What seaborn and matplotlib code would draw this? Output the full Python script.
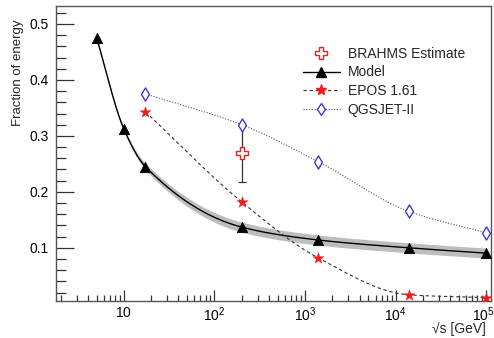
import numpy as np
import matplotlib
matplotlib.use("Agg")
import matplotlib.pyplot as plt
from matplotlib.lines import Line2D
from matplotlib.ticker import FixedLocator, FuncFormatter
import matplotlib.transforms as mtransforms
import seaborn as sns

# Centre-of-mass energies (GeV) and fractions of energy
model_x = [5, 10, 17.3, 200, 1400, 14000, 100000]
model_y = [0.475, 0.312, 0.245, 0.137, 0.114, 0.100, 0.0905]
model_err = [0.002, 0.003, 0.006, 0.009, 0.009, 0.009, 0.009]

epos_x = [17.3, 200, 1400, 14000, 100000]
epos_y = [0.343, 0.182, 0.082, 0.016, 0.011]

qgs_x = [17.3, 200, 1400, 14000, 100000]
qgs_y = [0.375, 0.320, 0.254, 0.165, 0.127]

brahms_x = [200]
brahms_y = [0.270]
brahms_lo = [0.218]
brahms_hi = [0.320]

x_ticks = [10, 100, 1000, 10000, 100000]
y_ticks = [0.1, 0.2, 0.3, 0.4, 0.5]


def pchip(x, y, xn):
    """Monotone cubic Hermite interpolation."""
    x = np.asarray(x, float)
    y = np.asarray(y, float)
    h = np.diff(x)
    d = np.diff(y) / h
    n = len(x)
    m = np.zeros(n)
    for k in range(1, n - 1):
        if d[k - 1] * d[k] > 0:
            w1 = 2 * h[k] + h[k - 1]
            w2 = h[k] + 2 * h[k - 1]
            m[k] = (w1 + w2) / (w1 / d[k - 1] + w2 / d[k])
    m[0] = d[0]
    m[-1] = d[-1]
    idx = np.clip(np.searchsorted(x, xn) - 1, 0, n - 2)
    t = (xn - x[idx]) / h[idx]
    h00 = 2 * t**3 - 3 * t**2 + 1
    h10 = t**3 - 2 * t**2 + t
    h01 = -2 * t**3 + 3 * t**2
    h11 = t**3 - t**2
    return h00 * y[idx] + h10 * h[idx] * m[idx] + h01 * y[idx + 1] + h11 * h[idx] * m[idx + 1]


def smooth(xs, ys, n=300):
    lx = np.log10(xs)
    grid = np.linspace(lx[0], lx[-1], n)
    return 10**grid, pchip(lx, ys, grid)


sns.set_style("ticks")
plt.rcParams["font.family"] = ["Liberation Sans", "DejaVu Sans"]
plt.rcParams["mathtext.fontset"] = "custom"
plt.rcParams["mathtext.rm"] = "Liberation Sans"

fig = plt.figure(figsize=(4.94, 3.38), dpi=100)
ax = fig.add_axes([0.1134, 0.1095, 0.8806, 0.8725])

# Model with uncertainty band
mx, my = smooth(model_x, model_y)
_, me = smooth(model_x, model_err)
ax.fill_between(mx, my - me, my + me, color="#bdbdbd", lw=0, zorder=1)
sns.lineplot(x=mx, y=my, ax=ax, color="black", lw=1.0, sort=False, zorder=2)
sns.scatterplot(x=model_x, y=model_y, ax=ax, marker="^", s=55, color="black",
                edgecolor="black", zorder=5)

# EPOS 1.61
ex, ey = smooth(epos_x, epos_y)
ax.plot(ex, ey, color="#333333", lw=0.8, ls=(0, (3, 2.5)), zorder=2)
sns.scatterplot(x=epos_x, y=epos_y, ax=ax, marker="*", s=70, color="#ee1c1c",
                edgecolor="#ee1c1c", linewidth=0.3, zorder=5)

# QGSJET-II
qx, qy = smooth(qgs_x, qgs_y)
ax.plot(qx, qy, color="#555555", lw=0.8, ls=(0, (1, 1.5)), zorder=2)
ax.scatter(qgs_x, qgs_y, marker="d", s=45, facecolors="white",
           edgecolors="#3a3ad6", linewidths=1.0, zorder=5)

# BRAHMS estimate
b_y = np.array(brahms_y)
ax.errorbar(brahms_x, brahms_y,
            yerr=[b_y - np.array(brahms_lo), np.array(brahms_hi) - b_y],
            fmt="none", ecolor="#333333", elinewidth=0.9, capsize=3, capthick=0.9,
            zorder=3)
ax.scatter(brahms_x, brahms_y, marker="P", s=80, facecolors="white",
           edgecolors="#ee2222", linewidths=1.0, zorder=6)

ax.set_xscale("log")
ax.set_xlim(1.78, 1.13e5)
ax.set_ylim(0.005, 0.532)

ax.xaxis.set_major_locator(FixedLocator(x_ticks))
ax.xaxis.set_major_formatter(FuncFormatter(
    lambda v, p: r"$10$" if abs(v - 10) < 1e-6 else r"$10^{%d}$" % round(np.log10(v))))
ax.yaxis.set_major_locator(FixedLocator(y_ticks))
ax.yaxis.set_minor_locator(FixedLocator(np.arange(0.02, 0.53, 0.02)))
ax.yaxis.set_major_formatter(FuncFormatter(lambda v, p: "%.1f" % v))

ax.tick_params(which="both", direction="in", colors="#333333", labelcolor="black",
               labelsize=10, top=False, right=False)
ax.tick_params(axis="y", which="major", length=13, width=0.9, pad=5)
ax.tick_params(axis="y", which="minor", length=7, width=0.9)
ax.tick_params(axis="x", which="major", length=8, width=0.9, pad=3.5)
ax.tick_params(axis="x", which="minor", length=4, width=0.9)
for s in ax.spines.values():
    s.set_color("#555555")
    s.set_linewidth(1.0)
    s.set_visible(True)

# keep the last decade label inside the canvas
fig.canvas.draw()
last = ax.get_xticklabels()[-1]
last.set_transform(last.get_transform() +
                   mtransforms.ScaledTranslation(-3 / 100, 0, fig.dpi_scale_trans))

ax.text(-0.088, 0.953, "Fraction of energy", transform=ax.transAxes,
        rotation=90, ha="center", va="top", fontsize=9.5)
ax.text(0.988, -0.107, "\u221as [GeV]", transform=ax.transAxes,
        ha="right", va="baseline", fontsize=10)

handles = [
    Line2D([], [], ls="none", marker="P", ms=9, mfc="white", mec="#ee2222", mew=1.0),
    Line2D([], [], color="black", lw=1.0, marker="^", ms=7, mfc="black", mec="black"),
    Line2D([], [], color="#333333", lw=0.8, ls=(0, (3, 2.5)), marker="*", ms=8,
           mfc="#ee1c1c", mec="#ee1c1c"),
    Line2D([], [], color="#555555", lw=0.8, ls=(0, (1, 1.5)), marker="d", ms=6.5,
           mfc="white", mec="#3a3ad6", mew=1.0),
]
labels = ["BRAHMS Estimate", "Model", "EPOS 1.61", "QGSJET-II"]
ax.legend(handles, labels, frameon=False, fontsize=10, loc="upper left",
          bbox_to_anchor=(0.54, 0.905), handlelength=2.6, handletextpad=0.6,
          labelspacing=0.35)

fig.savefig("out.png", dpi=100)
